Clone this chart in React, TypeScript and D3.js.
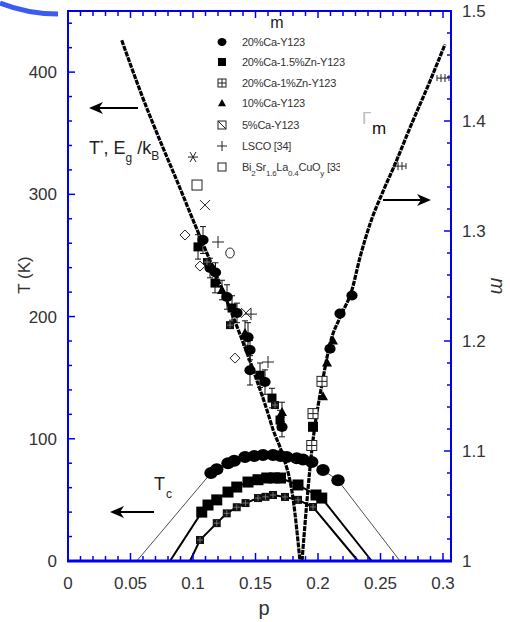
import React from 'react';
import * as d3 from 'd3';

type Pt = [number, number];
type PtE = [number, number, number];

// T*, Eg/kB line (left axis, K)
const tStarLine: Pt[] = [
  [0.043, 426], [0.0576, 385], [0.0936, 295], [0.151, 148], [0.159, 124],
  [0.1642, 107], [0.171, 89], [0.1802, 50], [0.1856, 0],
];

// Gamma_m line (right axis)
const gammaLine: Pt[] = [
  [0.1872, 1.0], [0.195, 1.1], [0.2042, 1.167],
  [0.2096, 1.1975], [0.2176, 1.2216], [0.227, 1.2458], [0.2336, 1.276], [0.2416, 1.3063],
  [0.2522, 1.3365], [0.2616, 1.3607], [0.2736, 1.3939], [0.2896, 1.4363], [0.3016, 1.4696],
];

// Tc domes
const tcCircles: Pt[] = [
  [0.1144, 72], [0.119, 75], [0.128, 80], [0.133, 82], [0.1416, 85], [0.149, 86],
  [0.156, 86.7], [0.164, 86.7], [0.17, 86], [0.175, 85], [0.183, 84], [0.188, 83],
  [0.195, 81], [0.204, 74.4], [0.216, 66],
];
const tcCirclesEnds: Pt[] = [[0.055, 0], [0.2656, 0]];

const tcSquares: Pt[] = [
  [0.107, 40], [0.112, 45.8], [0.119, 50], [0.128, 56.4], [0.135, 60.5], [0.144, 64.6],
  [0.152, 66.5], [0.159, 67.9], [0.165, 68], [0.17, 67.9], [0.184, 62.2], [0.1984, 54],
  [0.203, 51.5],
];
const tcSquaresEnds: Pt[] = [[0.0816, 0], [0.243, 0]];

const tcCrossed: Pt[] = [
  [0.1056, 17.2], [0.119, 31], [0.127, 39], [0.135, 44], [0.142, 47.4], [0.152, 51.5],
  [0.158, 52.5], [0.164, 54], [0.1736, 52.4], [0.184, 50], [0.196, 44.2],
];
const tcCrossedEnds: Pt[] = [[0.0976, 0], [0.232, 0]];

// T* branch points (p, T, error)
const tsCircles: PtE[] = [
  [0.108, 262.6, 11], [0.1136, 239.7, 8], [0.118, 236, 8], [0.1272, 216, 10], [0.1352, 203, 8],
  [0.144, 183, 12], [0.1456, 172.6, 8], [0.1456, 156, 12], [0.1576, 146.4, 10], [0.1712, 109.6, 8],
];
const tsSquares: PtE[] = [
  [0.104, 257, 10], [0.1176, 227.4, 8], [0.1312, 207, 10], [0.1536, 152, 10],
  [0.1632, 133.3, 8], [0.1696, 115.3, 8],
];
const tsTriangles: PtE[] = [[0.1712, 121.9, 8], [0.1416, 186.5, 10], [0.1232, 221.7, 8]];
const tsCrossed: Pt[] = [[0.1112, 244.6], [0.1296, 193], [0.1656, 127.6]];
const lscoPts: Pt[] = [[0.12, 261], [0.1464, 202], [0.16, 162.8]];
const biPts: Pt[] = [[0.1032, 307.6]];
const starPts: Pt[] = [[0.1, 330.5]];
const xPts: Pt[] = [[0.1096, 291.2], [0.1424, 203]];
const diamondPts: Pt[] = [[0.0936, 266.7], [0.1056, 241.3], [0.1336, 166]];
const openCirclePts: Pt[] = [[0.1296, 252]];

// Gamma_m branch points (right axis)
const gCircles: Pt[] = [[0.2272, 1.2413], [0.2176, 1.2249], [0.2096, 1.193]];
const gTriangles: Pt[] = [[0.212, 1.2005], [0.2072, 1.1805], [0.204, 1.1497]];
const gCrossed: Pt[] = [[0.2032, 1.1633], [0.196, 1.134], [0.195, 1.105]];
const gSquares: Pt[] = [[0.196, 1.122]];
const gHbar: Pt[] = [[0.3, 1.439], [0.2656, 1.359]];

const legendLabels = [
  '20%Ca-Y123', '20%Ca-1.5%Zn-Y123', '20%Ca-1%Zn-Y123', '10%Ca-Y123', '5%Ca-Y123', 'LSCO [34]',
];
const legendSymbols = ['circle', 'square', 'xsquare', 'triangle', 'diag', 'plus', 'osquare'];

const xMajor = [0, 0.05, 0.1, 0.15, 0.2, 0.25, 0.3];
const yLeftMajor = [0, 100, 200, 300, 400];
const yRightMajor = [1, 1.1, 1.2, 1.3, 1.4, 1.5];

const BLUE = '#0000f0';
const FONT = 'Liberation Sans, Arial, sans-serif';

const x = d3.scaleLinear().domain([0, 0.3064]).range([68, 451]);
const yL = d3.scaleLinear().domain([0, 450]).range([561, 11]);
const yR = d3.scaleLinear().domain([1, 1.5]).range([561, 11]);

const Mark = ({ t, cx, cy, r = 4.5 }: { t: string; cx: number; cy: number; r?: number }) => {
  const s = '#222';
  switch (t) {
    case 'circle':
      return <ellipse cx={cx} cy={cy} rx={r * 1.12} ry={r} fill="#000" />;
    case 'square':
      return <rect x={cx - r} y={cy - r} width={2 * r} height={2 * r} fill="#000" />;
    case 'xsquare':
      return (
        <g stroke={s} strokeWidth={1} fill="#fff">
          <rect x={cx - r} y={cy - r} width={2 * r} height={2 * r} />
          <line x1={cx} x2={cx} y1={cy - r} y2={cy + r} />
          <line x1={cx - r} x2={cx + r} y1={cy} y2={cy} />
        </g>
      );
    case 'xsquareDark':
      return (
        <g>
          <rect x={cx - r} y={cy - r} width={2 * r} height={2 * r} fill="#111" />
          <line x1={cx} x2={cx} y1={cy - r + 1} y2={cy + r - 1} stroke="#888" strokeWidth={0.8} />
          <line x1={cx - r + 1} x2={cx + r - 1} y1={cy} y2={cy} stroke="#888" strokeWidth={0.8} />
        </g>
      );
    case 'triangle':
      return <path d={`M${cx},${cy - r}L${cx + r},${cy + r * 0.8}L${cx - r},${cy + r * 0.8}Z`} fill="#000" />;
    case 'diag':
      return (
        <g stroke={s} strokeWidth={1} fill="#fff">
          <rect x={cx - r} y={cy - r} width={2 * r} height={2 * r} />
          <line x1={cx - r} x2={cx + r} y1={cy - r} y2={cy + r} />
        </g>
      );
    case 'plus':
      return (
        <g stroke={s} strokeWidth={1}>
          <line x1={cx - r} x2={cx + r} y1={cy} y2={cy} />
          <line x1={cx} x2={cx} y1={cy - r} y2={cy + r} />
        </g>
      );
    case 'osquare':
      return <rect x={cx - r} y={cy - r} width={2 * r} height={2 * r} fill="#fff" stroke={s} strokeWidth={1} />;
    case 'star':
      return (
        <g stroke={s} strokeWidth={1}>
          <line x1={cx - r} x2={cx + r} y1={cy} y2={cy} />
          <line x1={cx - r * 0.6} x2={cx + r * 0.6} y1={cy - r} y2={cy + r} />
          <line x1={cx + r * 0.6} x2={cx - r * 0.6} y1={cy - r} y2={cy + r} />
        </g>
      );
    case 'x':
      return (
        <g stroke={s} strokeWidth={1}>
          <line x1={cx - r} x2={cx + r} y1={cy - r} y2={cy + r} />
          <line x1={cx + r} x2={cx - r} y1={cy - r} y2={cy + r} />
        </g>
      );
    case 'diamond':
      return <path d={`M${cx},${cy - r}L${cx + r},${cy}L${cx},${cy + r}L${cx - r},${cy}Z`} fill="#fff" stroke={s} strokeWidth={1} />;
    case 'ocircle':
      return <ellipse cx={cx} cy={cy} rx={r * 0.85} ry={r} fill="#fff" stroke={s} strokeWidth={1} />;
    default:
      return null;
  }
};

const ErrBar = ({ cx, y1, y2 }: { cx: number; y1: number; y2: number }) => (
  <g stroke="#111" strokeWidth={1}>
    <line x1={cx} x2={cx} y1={y1} y2={y2} />
    <line x1={cx - 3} x2={cx + 3} y1={y1} y2={y1} />
    <line x1={cx - 3} x2={cx + 3} y1={y2} y2={y2} />
  </g>
);

const Arrow = ({ x1, x2, y }: { x1: number; x2: number; y: number }) => {
  const d = x2 < x1 ? 1 : -1;
  return (
    <g>
      <line x1={x1} x2={x2 + d * 6} y1={y} y2={y} stroke="#000" strokeWidth={2} />
      <path d={`M${x2},${y}L${x2 + d * 14},${y - 6}L${x2 + d * 10},${y}L${x2 + d * 14},${y + 6}Z`} fill="#000" />
    </g>
  );
};

const App = () => {
  const lineL = d3.line<Pt>().x((d) => x(d[0])).y((d) => yL(d[1]));
  const curveL = d3.line<Pt>().x((d) => x(d[0])).y((d) => yL(d[1])).curve(d3.curveMonotoneX);
  const curveR = d3.line<Pt>().x((d) => x(d[0])).y((d) => yR(d[1])).curve(d3.curveMonotoneX);
  const fmt = d3.format('~g');

  const xMinor = d3.range(0, 31).map((i) => i / 100);
  const yLMinor = d3.range(0, 23).map((i) => i * 20);
  const yRMinor = d3.range(0, 26).map((i) => 1 + i / 50);

  const dome = (pts: Pt[], ends: Pt[]) => [ends[0], ...pts, ends[1]];
  const legendY = [42, 62, 83, 103, 125, 146, 167];

  return (
    <svg width={510} height={622} style={{ position: 'absolute', left: 0, top: 0 }} fontFamily={FONT}>
      <rect width={510} height={622} fill="#fff" />
      {/* stray blue stroke at the corner */}
      <path d="M0,3 Q28,14 58,14" fill="none" stroke="#3a5cf2" strokeWidth={5} />

      {/* Tc domes */}
      <path d={lineL(dome(tcCircles, tcCirclesEnds)) || ''} fill="none" stroke="#000" strokeWidth={0.7} />
      <path d={lineL(dome(tcSquares, tcSquaresEnds)) || ''} fill="none" stroke="#000" strokeWidth={2} />
      <path d={lineL(dome(tcCrossed, tcCrossedEnds)) || ''} fill="none" stroke="#000" strokeWidth={2} />
      {tcCircles.map((d, i) => (
        <Mark key={'tc' + i} t="circle" cx={x(d[0])} cy={yL(d[1])} r={6} />
      ))}
      {tcSquares.map((d, i) => (
        <Mark key={'ts' + i} t="square" cx={x(d[0])} cy={yL(d[1])} r={5.5} />
      ))}
      {tcCrossed.map((d, i) => (
        <Mark key={'tx' + i} t="xsquareDark" cx={x(d[0])} cy={yL(d[1])} r={4} />
      ))}

      {/* T* line and Gamma_m line */}
      <path d={curveL(tStarLine) || ''} fill="none" stroke="#000" strokeWidth={3.2} strokeDasharray="5 1" />
      <path d={curveR(gammaLine) || ''} fill="none" stroke="#000" strokeWidth={3.2} strokeDasharray="5 1" />

      {/* T* branch data */}
      {[...tsCircles, ...tsSquares, ...tsTriangles].map((d, i) => (
        <ErrBar key={'e' + i} cx={x(d[0])} y1={yL(d[1] + d[2])} y2={yL(d[1] - d[2])} />
      ))}
      {tsCircles.map((d, i) => <Mark key={'c' + i} t="circle" cx={x(d[0])} cy={yL(d[1])} r={5} />)}
      {tsSquares.map((d, i) => <Mark key={'s' + i} t="square" cx={x(d[0])} cy={yL(d[1])} r={4.5} />)}
      {tsTriangles.map((d, i) => <Mark key={'t' + i} t="triangle" cx={x(d[0])} cy={yL(d[1])} r={5} />)}
      {tsCrossed.map((d, i) => <Mark key={'x' + i} t="xsquareDark" cx={x(d[0])} cy={yL(d[1])} r={4} />)}
      {lscoPts.map((d, i) => <Mark key={'l' + i} t="plus" cx={x(d[0])} cy={yL(d[1])} r={6} />)}
      {biPts.map((d, i) => <Mark key={'b' + i} t="osquare" cx={x(d[0])} cy={yL(d[1])} r={5} />)}
      {starPts.map((d, i) => <Mark key={'a' + i} t="star" cx={x(d[0])} cy={yL(d[1])} r={5} />)}
      {xPts.map((d, i) => <Mark key={'k' + i} t="x" cx={x(d[0])} cy={yL(d[1])} r={5} />)}
      {diamondPts.map((d, i) => <Mark key={'d' + i} t="diamond" cx={x(d[0])} cy={yL(d[1])} r={5} />)}
      {openCirclePts.map((d, i) => <Mark key={'o' + i} t="ocircle" cx={x(d[0])} cy={yL(d[1])} r={5} />)}

      {/* Gamma_m branch data */}
      {gCircles.map((d, i) => <Mark key={'gc' + i} t="circle" cx={x(d[0])} cy={yR(d[1])} r={5} />)}
      {gTriangles.map((d, i) => <Mark key={'gt' + i} t="triangle" cx={x(d[0])} cy={yR(d[1])} r={5} />)}
      {gSquares.map((d, i) => <Mark key={'gs' + i} t="square" cx={x(d[0])} cy={yR(d[1])} r={5} />)}
      {gCrossed.map((d, i) => <Mark key={'gx' + i} t="xsquare" cx={x(d[0])} cy={yR(d[1])} r={5} />)}
      {gHbar.map((d, i) => (
        <g key={'gh' + i} stroke="#222" strokeWidth={1}>
          <line x1={x(d[0]) - 6} x2={x(d[0]) + 6} y1={yR(d[1])} y2={yR(d[1])} />
          <line x1={x(d[0]) - 6} x2={x(d[0]) - 6} y1={yR(d[1]) - 3} y2={yR(d[1]) + 3} />
          <line x1={x(d[0]) + 6} x2={x(d[0]) + 6} y1={yR(d[1]) - 3} y2={yR(d[1]) + 3} />
          <line x1={x(d[0]) - 2} x2={x(d[0]) - 2} y1={yR(d[1]) - 4} y2={yR(d[1]) + 4} />
          <line x1={x(d[0]) + 2} x2={x(d[0]) + 2} y1={yR(d[1]) - 4} y2={yR(d[1]) + 4} />
        </g>
      ))}

      {/* frame and ticks */}
      <g stroke={BLUE}>
        <line x1={68} x2={68} y1={11} y2={562} strokeWidth={2} />
        <line x1={451} x2={451} y1={11} y2={562} strokeWidth={2} />
        <line x1={67} x2={452} y1={11} y2={11} strokeWidth={2} />
        <line x1={67} x2={452} y1={561} y2={561} strokeWidth={3} />
        {xMinor.map((v) => (
          <g key={'xm' + v}>
            <line x1={x(v)} x2={x(v)} y1={561} y2={xMajor.some((m) => Math.abs(m - v) < 1e-6) ? 553 : 556} strokeWidth={1.5} />
            <line x1={x(v)} x2={x(v)} y1={11} y2={xMajor.some((m) => Math.abs(m - v) < 1e-6) ? 18 : 16} strokeWidth={1.5} />
          </g>
        ))}
        {yLMinor.map((v) => (
          <line key={'yl' + v} x1={68} x2={v % 100 === 0 ? 75 : 72} y1={yL(v)} y2={yL(v)} strokeWidth={1.5} />
        ))}
        {yRMinor.map((v) => (
          <line
            key={'yr' + v}
            x1={451}
            x2={yRightMajor.some((m) => Math.abs(m - v) < 1e-6) ? 444 : 447}
            y1={yR(v)}
            y2={yR(v)}
            strokeWidth={1.5}
          />
        ))}
      </g>

      {/* tick labels */}
      <g fill="#333" fontSize={17}>
        {xMajor.map((v) => (
          <text key={'xl' + v} x={x(v)} y={589} textAnchor="middle">{fmt(v)}</text>
        ))}
        {yLeftMajor.map((v) => (
          <text key={'yll' + v} x={57} y={yL(v) + 6} textAnchor="end">{fmt(v)}</text>
        ))}
        {yRightMajor.map((v) => (
          <text key={'yrl' + v} x={462} y={yR(v) + 6}>{fmt(v)}</text>
        ))}
      </g>

      {/* axis titles */}
      <text x={264} y={615} fontSize={20} textAnchor="middle" fill="#333">p</text>
      <text transform="translate(30,275) rotate(-90)" fontSize={17} textAnchor="middle" fill="#333">T (K)</text>
      <text transform="translate(491,286) rotate(90)" fontSize={20} fontStyle="italic" textAnchor="middle" fill="#333">m</text>
      <text x={277} y={28} fontSize={16} textAnchor="middle" fill="#222">m</text>

      {/* annotations */}
      <Arrow x1={138} x2={89} y={108} />
      <Arrow x1={383} x2={431} y={200} />
      <Arrow x1={154} x2={110} y={512} />
      <text x={89} y={154} fontSize={18} fill="#222">
        T<tspan dy={-8} fontSize={9}>*</tspan>
        <tspan dy={8}>, E</tspan>
        <tspan dy={8} fontSize={12}>g</tspan>
        <tspan dy={-8}> /k</tspan>
        <tspan dy={6} fontSize={12}>B</tspan>
      </text>
      <text x={154} y={490} fontSize={18} fill="#222">
        T<tspan dx={1} dy={8} fontSize={12}>c</tspan>
      </text>
      <text x={362} y={124} fontSize={17} fill="#bbb">Γ</text>
      <text x={372} y={134} fontSize={17} fill="#111">m</text>

      {/* legend */}
      <clipPath id="legclip">
        <rect x={200} y={150} width={140} height={40} />
      </clipPath>
      {legendSymbols.map((t, i) => (
        <Mark key={'lg' + i} t={t} cx={222} cy={legendY[i]} r={t === 'plus' ? 5 : 4} />
      ))}
      {legendLabels.map((lab, i) => (
        <text key={'lt' + i} x={242} y={legendY[i] + 4} fontSize={11} letterSpacing={-0.25} fill="#333">
          {lab}
        </text>
      ))}
      <g clipPath="url(#legclip)">
        <text x={242} y={171} fontSize={11} letterSpacing={-0.25} fill="#333">
          Bi<tspan dy={5} fontSize={8}>2</tspan>
          <tspan dy={-5}>Sr</tspan>
          <tspan dy={5} fontSize={8}>1.6</tspan>
          <tspan dy={-5}>La</tspan>
          <tspan dy={5} fontSize={8}>0.4</tspan>
          <tspan dy={-5}>CuO</tspan>
          <tspan dy={5} fontSize={8}>y</tspan>
          <tspan dy={-5}> [33]</tspan>
        </text>
      </g>
    </svg>
  );
};

export default App;
